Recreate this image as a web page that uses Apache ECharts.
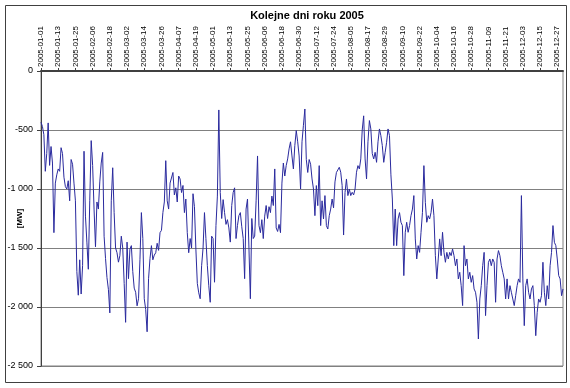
<!DOCTYPE html>
<html>
<head>
<meta charset="utf-8">
<script src="https://cdn.jsdelivr.net/npm/echarts@6/dist/echarts.min.js"></script>
<style>
html,body{margin:0;padding:0;background:#fff;}
#c{width:570px;height:388px;}
</style>
</head>
<body>
<div id="c"></div>
<script>
var titleText = 'Kolejne dni roku 2005';
var yName = '[MW]';
var yTicks = [0, -500, -1000, -1500, -2000, -2500];
var startDate = '2005-01-01';
var dayCount = 365;

var valuesPart1 = [
-435,-470,-540,-850,-700,-440,-800,-640,-780,-1370,
-950,-880,-830,-850,-650,-700,-900,-980,-1000,-930,
-1100,-750,-790,-950,-1100,-1700,-1900,-1600,-1890,-1650,
-680,-1230,-1450,-1680,-1100,-590,-800,-1170,-1490,-1110,
-1170,-940,-780,-690,-1400,-1590,-1750,-1850,-2050,-1100,
-820,-1200,-1500,-1540,-1620,-1565,-1400,-1500,-1800,-2130,
-1450,-1760,-1510,-1480,-1700,-1840,-1875,-1990,-1930,-1600,
-1200,-1420,-1930,-2020,-2210,-1760,-1590,-1480,-1600,-1560,
-1540,-1460,-1520,-1370,-1350,-1200,-1110,-760,-1100,-1170
];
var valuesPart2 = [
-950,-940,-860,-1050,-990,-1110,-890,-915,-1030,-970,
-1200,-1085,-1370,-1540,-1420,-1500,-1040,-1150,-1510,-1800,
-1880,-1930,-1650,-1500,-1200,-1420,-1650,-1820,-1960,-1400,
-1420,-1790,-1310,-1060,-330,-1030,-1250,-1090,-1200,-1300,
-1260,-1330,-1450,-1140,-1030,-990,-1420,-1310,-1226,-1200,
-1320,-1420,-1760,-1170,-1085,-1500,-1930,-1250,-1420,-1400,
-1100,-720,-1310,-1370,-1260,-1420,-1230,-1140,-1250,-1150,
-1200,-1060,-1140,-830,-1330,-1360,-1300,-1370,-950,-780,
-890,-800,-745,-660,-600,-720,-830,-630,-505,-600
];
var valuesPart3 = [
-720,-1000,-600,-460,-322,-750,-860,-750,-790,-915,
-1000,-1226,-971,-1141,-802,-1310,-1100,-1254,-1056,-1310,
-1339,-1226,-1170,-1085,-1160,-940,-860,-845,-816,-858,
-971,-1390,-1030,-915,-1056,-1000,-1056,-1028,-1050,-1000,
-858,-802,-830,-745,-500,-380,-745,-915,-600,-420,
-491,-700,-745,-689,-774,-600,-491,-548,-632,-774,
-689,-604,-491,-548,-880,-1085,-1480,-1170,-1480,-1254,
-1200,-1282,-1310,-1734,-1367,-1282,-1367,-1310,-1226,-1170,
-1056,-1423,-1593,-1480,-1537,-1367,-1198,-802,-1113,-1282
];
var valuesPart4 = [
-1226,-1254,-1198,-1085,-1226,-1565,-1762,-1593,-1423,-1565,
-1367,-1537,-1621,-1537,-1593,-1537,-1565,-1508,-1565,-1650,
-1593,-1762,-1706,-1819,-1988,-1480,-1650,-1593,-1762,-1706,
-1791,-1734,-1847,-1875,-1960,-2271,-1932,-1819,-1650,-1537,
-2073,-1819,-1621,-1593,-1650,-1593,-1621,-1960,-1593,-1522,
-1565,-1650,-1706,-1762,-1932,-1762,-1932,-1819,-1875,-1932,
-1988,-1904,-1819,-1762,-1791,-1056,-1762,-2158,-1819,-1762,
-1875,-1932,-1847,-1819,-1988,-2243,-2045,-1932,-1960,-1904,
-1621,-1875,-1988,-1819,-1932,-1650,-1537,-1310,-1452,-1480,
-1593,-1734,-1762,-1904,-1847
];
var values = valuesPart1.concat(valuesPart2, valuesPart3, valuesPart4);

function pad(n){return (n<10?'0':'')+n;}
var categories = [];
(function(){
  var d = new Date(startDate + 'T00:00:00Z');
  for (var i = 0; i < dayCount; i++) {
    categories.push(d.getUTCFullYear() + '-' + pad(d.getUTCMonth()+1) + '-' + pad(d.getUTCDate()));
    d.setUTCDate(d.getUTCDate() + 1);
  }
})();

function fmt(v){
  var a = Math.abs(v), s;
  if (a >= 1000) { s = Math.floor(a/1000) + ' ' + String(a%1000).padStart(3,'0'); }
  else s = String(a);
  return (v < 0 ? '-' : '') + s;
}

var chart = echarts.init(document.getElementById('c'), null, {renderer:'canvas'});
chart.setOption({
  animation: false,
  backgroundColor: '#ffffff',
  textStyle: {fontFamily: 'Liberation Sans, Arial, sans-serif'},
  title: {
    text: titleText,
    left: 302, textAlign: 'center', top: 5,
    textStyle: {fontSize: 11, fontWeight: 'bold', color: '#000', fontFamily: 'Liberation Sans, Arial, sans-serif'}
  },
  graphic: [{
    type: 'rect', shape: {x: 5.5, y: 5.5, width: 561, height: 377},
    style: {fill: 'none', stroke: '#404040', lineWidth: 1}, silent: true, z: -1
  }],
  grid: {left: 41, right: 7, top: 71, bottom: 22, containLabel: false, outerBoundsMode: 'none',
         show: true, borderColor: '#808080', borderWidth: 1, backgroundColor: '#fff'},
  xAxis: {
    type: 'category',
    position: 'top',
    data: categories,
    boundaryGap: false,
    axisLine: {show: true, lineStyle: {color: '#404040', width: 2}},
    axisTick: {show: true, interval: 11, length: 3, lineStyle: {color: '#404040'}},
    axisLabel: {interval: 11, rotate: 90, fontSize: 8, color: '#000', margin: 4, fontFamily: 'Liberation Sans, Arial, sans-serif'},
    splitLine: {show: false}
  },
  yAxis: {
    type: 'value',
    min: yTicks[yTicks.length-1], max: yTicks[0], interval: 500,
    name: yName, nameLocation: 'middle', nameRotate: 90, nameGap: 17, nameMoveOverlap: false,
    nameTextStyle: {fontSize: 8, fontWeight: 'bold', color: '#000'},
    axisLine: {show: true, lineStyle: {color: '#404040', width: 1}},
    axisTick: {show: true, length: 4, lineStyle: {color: '#404040'}},
    axisLabel: {formatter: fmt, fontSize: 9, color: '#000', margin: 8},
    splitLine: {show: true, lineStyle: {color: '#808080', width: 1}}
  },
  series: [{
    type: 'line',
    data: values,
    showSymbol: false,
    symbol: 'none',
    lineStyle: {color: '#2a2a9e', width: 1},
    z: 3
  }]
});
</script>
</body>
</html>
